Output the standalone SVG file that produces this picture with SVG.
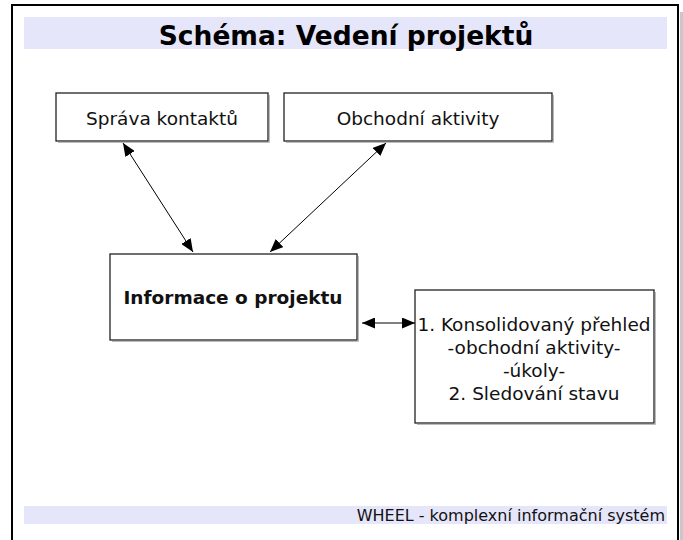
<svg xmlns="http://www.w3.org/2000/svg" width="683" height="540" viewBox="0 0 683 540">
<style>
.box{fill:#fff;stroke:#222;stroke-width:1.3}
.bs{fill:none;stroke:#bbb;stroke-width:1}
.shadow{fill:#c8c8c8}
.t{font-family:"DejaVu Sans","Liberation Sans",sans-serif;font-size:18.5px;fill:#111;text-anchor:middle}
.b{font-weight:bold}
.conn{stroke:#000;stroke-width:1;fill:none;marker-start:url(#ah);marker-end:url(#ah)}
</style>
<defs>
<marker id="ah" viewBox="0 0 13 11" refX="13" refY="5.5" markerWidth="13" markerHeight="11" markerUnits="userSpaceOnUse" orient="auto-start-reverse">
<path d="M0,0 L13,5.5 L0,11 Z" fill="#000"/>
</marker>
</defs>
<rect width="683" height="540" fill="#fff"/>
<rect class="shadow" x="680" y="12" width="3" height="528"/>
<path d="M12,545 V5 H678 V545" fill="none" stroke="#000" stroke-width="2"/>
<g id="title">
<rect x="24" y="17" width="643" height="32" fill="#e6e6fa"/>
<text x="346" y="45" style="font-family:'DejaVu Sans','Liberation Sans',sans-serif;font-size:26.5px;font-weight:bold;fill:#000;text-anchor:middle">Schéma: Vedení projektů</text>
</g>
<g id="footer">
<rect x="24" y="506" width="643" height="18" fill="#e6e6fa"/>
<text x="665" y="521" style="font-family:'DejaVu Sans','Liberation Sans',sans-serif;font-size:16px;fill:#111;text-anchor:end">WHEEL - komplexní informační systém</text>
</g>
<g id="sprava">
<path class="bs" d="M269.5,95 V142.5 H58"/>
<rect class="box" x="56" y="93" width="212" height="48"/>
<text class="t" x="162" y="125">Správa kontaktů</text>
</g>
<g id="obchodni">
<path class="bs" d="M553.5,95 V142.5 H286"/>
<rect class="box" x="284" y="93" width="268" height="48"/>
<text class="t" x="418" y="125">Obchodní aktivity</text>
</g>
<g id="informace">
<path class="bs" d="M358.5,256 V341.5 H112"/>
<rect class="box" x="110" y="254" width="247" height="86"/>
<text class="t b" x="233" y="304">Informace o projektu</text>
</g>
<g id="prehled">
<path class="bs" d="M655.5,292 V424.5 H417"/>
<rect class="box" x="415" y="290" width="239" height="133"/>
<text class="t" x="534" y="331">1. Konsolidovaný přehled</text>
<text class="t" x="534" y="354">-obchodní aktivity-</text>
<text class="t" x="534" y="377">-úkoly-</text>
<text class="t" x="534" y="400">2. Sledování stavu</text>
</g>
<g id="connectors">
<line class="conn" x1="123" y1="143" x2="193" y2="252"/>
<line class="conn" x1="386" y1="143" x2="270" y2="252"/>
<line class="conn" x1="362" y1="323" x2="415" y2="323"/>
</g>
</svg>
